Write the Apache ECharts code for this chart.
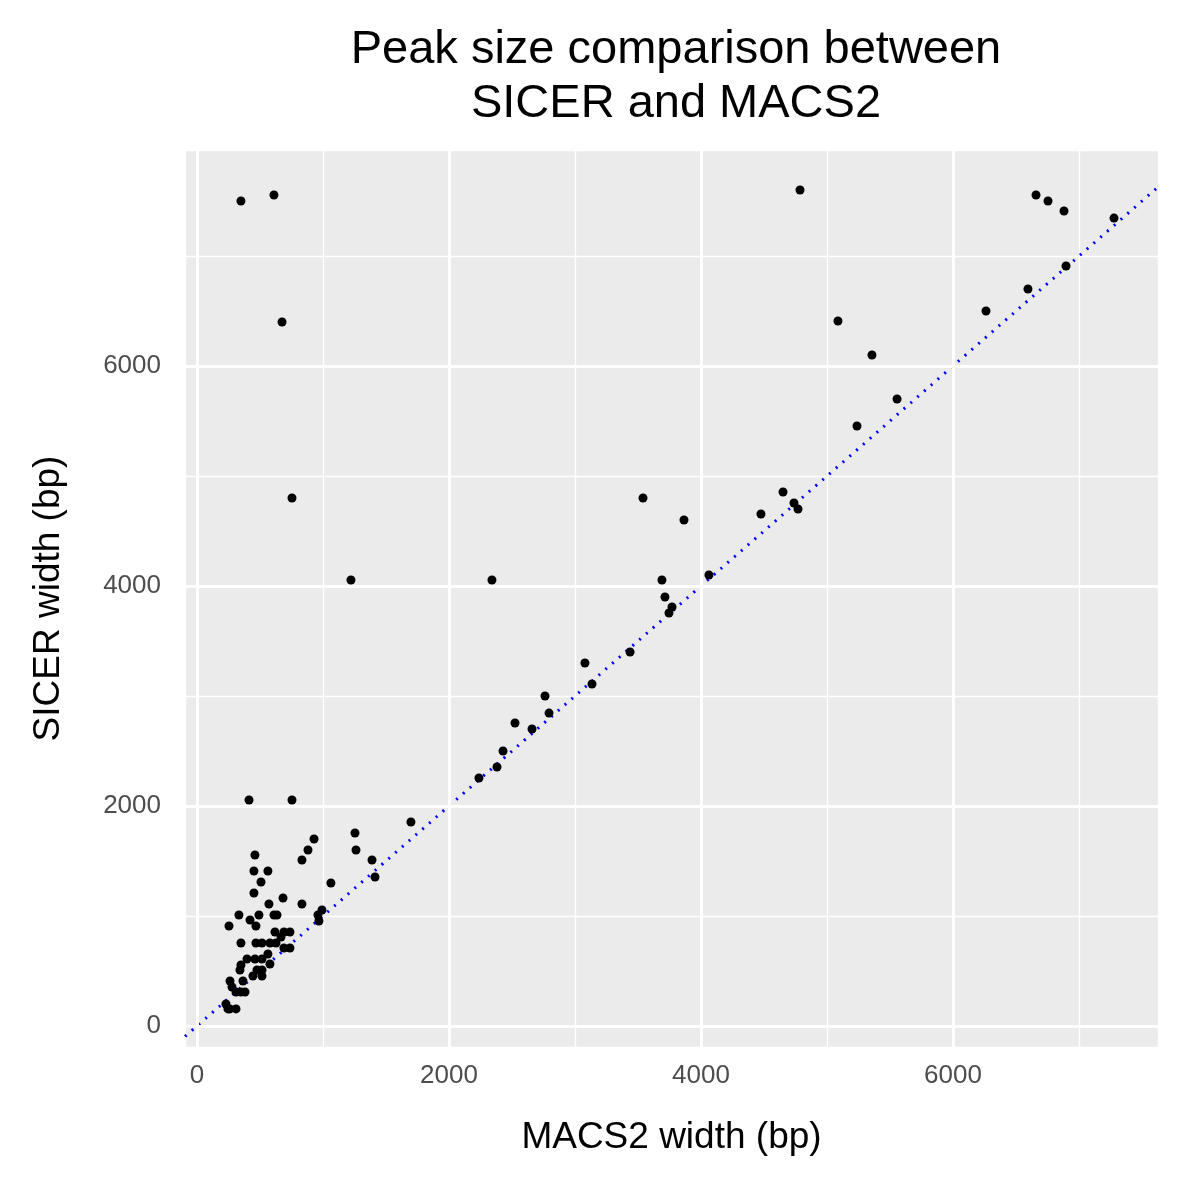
<!DOCTYPE html>
<html><head><meta charset="utf-8">
<script src="https://cdn.jsdelivr.net/npm/echarts@6/dist/echarts.min.js"></script>
<style>html,body{margin:0;padding:0;background:#fff}#c{width:1181px;height:1181px}</style>
</head><body><div id="c"></div>
<script>
const macs2 = [349,611,4786,6659,6754,6881,7278,6897,6595,6262,675,5087,5357,5556,5238,754,3540,3865,4476,4651,4738,4770,4063,3690,3714,3770,3746,3437,3079,3135,2762,2794,2524,2659,2429,2381,2238,1222,2341,413,754,1698,1254,1262,929,881,833,1389,1413,1063,833,992,960,968,460,452,563,508,683,452,571,333,254,421,492,611,635,468,349,468,516,579,627,690,738,667,619,690,738,397,460,516,563,579,349,341,476,516,444,516,365,262,278,349,381,310,230,262,310,246]
const sicer = [7500,7555,7600,7555,7500,7409,7345,6909,6700,6500,6400,6409,6100,5700,5455,4800,4800,4600,4655,4855,4755,4700,4100,4055,3900,3809,3755,3400,3300,3109,3000,2845,2755,2700,2500,2355,2255,4055,4055,2055,2055,1855,1755,1600,1700,1600,1509,1509,1355,1300,1109,1055,1009,955,1555,1409,1409,1309,1164,1209,1109,1009,909,964,1009,1009,1009,909,755,755,755,755,755,855,855,809,855,709,709,609,609,609,655,564,555,509,509,509,455,455,409,409,355,309,309,309,200,155,155,155]
const majorTicks = [0, 2000, 4000, 6000]
const xRange = [-95, 7627]
const yRange = [-191, 7964]

const points = macs2.map((x, i) => [x, sicer[i]])
const chart = echarts.init(document.getElementById('c'))
const lbl = { color: '#4D4D4D', fontSize: 26, fontFamily: 'Liberation Sans', formatter: v => (v % 2000 === 0 ? String(v) : ''), showMinLabel: false, showMaxLabel: false }
const majorLine = { color: '#fff', width: 3, type: 'solid', opacity: 1 }
chart.setOption({
    animation: false,
    title: {
        text: 'Peak size comparison between\nSICER and MACS2',
        left: 671, top: 18, textAlign: 'center',
        textStyle: { fontSize: 47, fontWeight: 'normal', color: '#000', fontFamily: 'Liberation Sans', lineHeight: 54 },
    },
    grid: { left: 185, right: 23, top: 150, bottom: 134, show: true, backgroundColor: '#EBEBEB', borderWidth: 0 },
    xAxis: {
        type: 'value', min: xRange[0], max: xRange[1], splitNumber: 8,
        name: 'MACS2 width (bp)', nameLocation: 'middle', nameGap: 72,
        nameTextStyle: { fontSize: 37, color: '#000', fontFamily: 'Liberation Sans' },
        axisLine: { show: false }, axisTick: { show: false }, axisLabel: Object.assign({}, lbl, { margin: 16 }),
        splitLine: { lineStyle: { color: '#fff', width: 1.3 } },
    },
    yAxis: {
        type: 'value', min: yRange[0], max: yRange[1], splitNumber: 8,
        name: 'SICER width (bp)', nameLocation: 'middle', nameGap: 118,
        nameTextStyle: { fontSize: 37, color: '#000', fontFamily: 'Liberation Sans' },
        axisLine: { show: false }, axisTick: { show: false }, axisLabel: Object.assign({}, lbl, { margin: 24 }),
        splitLine: { lineStyle: { color: '#fff', width: 1.3 } },
    },
    series: [
        {
            type: 'line', data: [], silent: true,
            markLine: {
                silent: true, symbol: 'none', label: { show: false }, lineStyle: majorLine,
                emphasis: { disabled: true },
                data: majorTicks.map(v => ({ xAxis: v })).concat(majorTicks.map(v => ({ yAxis: v }))),
            },
        },
        {
            type: 'line', data: [[xRange[0], xRange[0]], [xRange[1], xRange[1]]], symbol: 'none',
            lineStyle: { color: '#0000FF', width: 3, type: [2, 7] }, z: 3,
        },
        {
            type: 'scatter', data: points, symbolSize: 9, itemStyle: { color: '#000', opacity: 1 }, z: 4,
        },
    ],
})
</script></body></html>
